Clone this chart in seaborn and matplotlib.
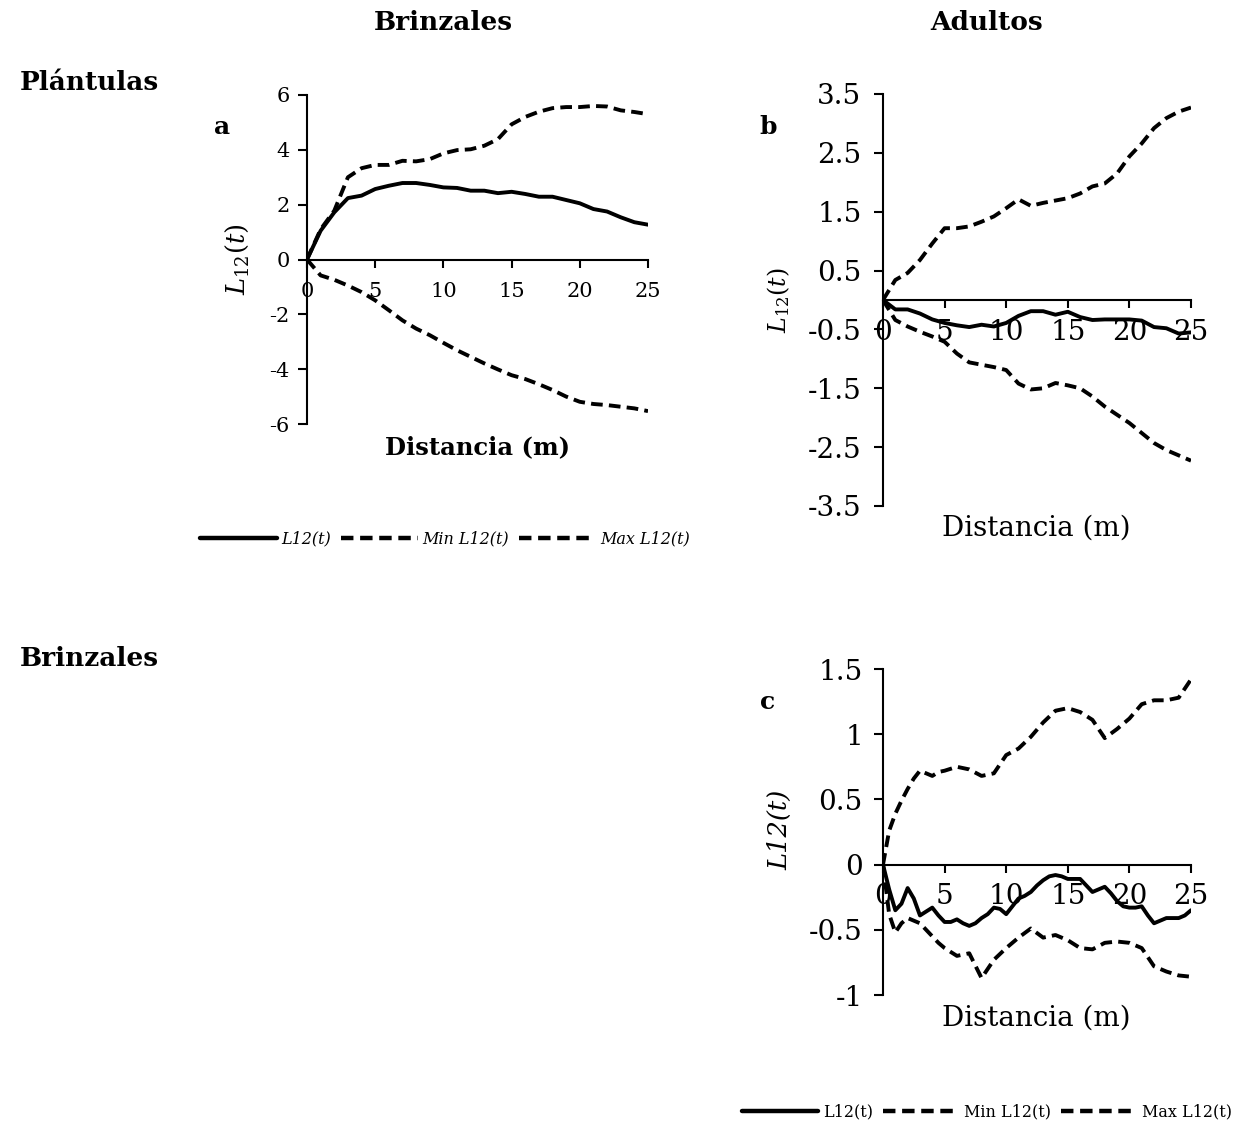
import numpy as np
import pandas as pd
import matplotlib
matplotlib.use("Agg")
import matplotlib.pyplot as plt
from matplotlib.lines import Line2D
import seaborn as sns

sns.set_style("white")
plt.rcParams['font.family'] = ['DejaVu Serif']
plt.rcParams['mathtext.fontset'] = 'dejavuserif'
plt.rcParams['text.color'] = 'black'
plt.rcParams['axes.labelcolor'] = 'black'
plt.rcParams['xtick.color'] = 'black'
plt.rcParams['ytick.color'] = 'black'

# ---------------- data ----------------
dist = list(range(0, 26))

a_l12 = [0, 1.05, 1.72, 2.24, 2.33, 2.57, 2.69, 2.79, 2.79, 2.72, 2.63, 2.61, 2.51,
         2.51, 2.42, 2.47, 2.39, 2.29, 2.29, 2.17, 2.05, 1.84, 1.75, 1.54, 1.36, 1.27]
a_min = [0, -0.58, -0.74, -0.95, -1.19, -1.49, -1.85, -2.22, -2.52, -2.76, -3.04, -3.31,
         -3.55, -3.79, -4.01, -4.22, -4.36, -4.55, -4.76, -5.0, -5.19, -5.27, -5.31,
         -5.37, -5.43, -5.53]
a_max = [0, 1.1, 1.78, 3.0, 3.33, 3.45, 3.45, 3.6, 3.58, 3.66, 3.87, 3.99, 4.02, 4.15,
         4.39, 4.93, 5.2, 5.39, 5.52, 5.56, 5.56, 5.6, 5.58, 5.44, 5.38, 5.3]

b_l12 = [0, -0.16, -0.16, -0.23, -0.33, -0.39, -0.43, -0.46, -0.42, -0.45, -0.39, -0.27,
         -0.19, -0.19, -0.25, -0.2, -0.29, -0.34, -0.33, -0.33, -0.33, -0.35, -0.46,
         -0.48, -0.57, -0.55]
b_min = [0, -0.34, -0.45, -0.54, -0.62, -0.71, -0.91, -1.06, -1.1, -1.14, -1.19, -1.42,
         -1.52, -1.5, -1.41, -1.45, -1.5, -1.64, -1.81, -1.95, -2.09, -2.26, -2.43,
         -2.55, -2.64, -2.73]
b_max = [0, 0.34, 0.46, 0.68, 0.96, 1.22, 1.22, 1.25, 1.33, 1.42, 1.56, 1.71, 1.6, 1.65,
         1.69, 1.73, 1.81, 1.93, 1.98, 2.15, 2.44, 2.66, 2.92, 3.09, 3.2, 3.27]

dist_c_fine = [i * 0.5 for i in range(51)]
c_l12 = [0, -0.19, -0.35, -0.30, -0.18, -0.26, -0.39, -0.36, -0.33, -0.39, -0.44, -0.44,
         -0.42, -0.45, -0.47, -0.45, -0.41, -0.38, -0.33, -0.34, -0.38, -0.32, -0.26,
         -0.24, -0.21, -0.16, -0.12, -0.09, -0.08, -0.09, -0.11, -0.11, -0.11, -0.16,
         -0.21, -0.19, -0.17, -0.22, -0.28, -0.32, -0.33, -0.33, -0.32, -0.39, -0.45,
         -0.43, -0.41, -0.41, -0.41, -0.39, -0.35]
dist_c_env = [0, 0.5, 1, 1.5, 2, 2.5, 3, 3.5, 4, 4.5, 5, 6, 7, 8, 9, 10, 11, 12, 13, 14,
              15, 16, 17, 18, 19, 20, 21, 22, 23, 24, 25]
c_min = [0, -0.38, -0.52, -0.45, -0.41, -0.43, -0.45, -0.50, -0.55, -0.60, -0.64, -0.70,
         -0.68, -0.87, -0.73, -0.64, -0.56, -0.49, -0.56, -0.54, -0.58, -0.64, -0.65,
         -0.60, -0.59, -0.60, -0.64, -0.78, -0.82, -0.85, -0.86]
c_max = [0, 0.26, 0.39, 0.49, 0.58, 0.66, 0.72, 0.70, 0.68, 0.71, 0.72, 0.75, 0.73, 0.68,
         0.70, 0.84, 0.89, 0.98, 1.09, 1.18, 1.20, 1.17, 1.11, 0.97, 1.04, 1.12, 1.23,
         1.26, 1.26, 1.28, 1.42]

legend_labels = ["L12(t)", "Min L12(t)", "Max L12(t)"]

# ---------------- figure ----------------
fig = plt.figure(figsize=(12.58, 11.27), dpi=100)
W, H = 1258, 1127


def add_ax(x0, y0, x1, y1):
    return fig.add_axes([x0 / W, 1 - y1 / H, (x1 - x0) / W, (y1 - y0) / H])


axa = add_ax(307, 95, 648, 424)
axb = add_ax(883, 94, 1191, 506)
axc = add_ax(883, 669, 1191, 995)

LW = 2.8
DASH = (0, (3.0, 1.6))


def draw(ax, xs, y, xe, ymin, ymax):
    sns.lineplot(x=xs, y=y, ax=ax, color='black', linewidth=LW, linestyle='-')
    sns.lineplot(x=xe, y=ymin, ax=ax, color='black', linewidth=LW, linestyle=DASH)
    sns.lineplot(x=xe, y=ymax, ax=ax, color='black', linewidth=LW, linestyle=DASH)


draw(axa, dist, a_l12, dist, a_min, a_max)
draw(axb, dist, b_l12, dist, b_min, b_max)
draw(axc, dist_c_fine, c_l12, dist_c_env, c_min, c_max)


def style(ax, ylim, yticks, fs, ypad, xpad):
    ax.set_xlim(0, 25)
    ax.set_ylim(*ylim)
    ax.set_yticks(yticks)
    ax.set_yticklabels([f"{v:g}" for v in yticks])
    ax.set_xticks([0, 5, 10, 15, 20, 25])
    ax.set_xticklabels(["0", "5", "10", "15", "20", "25"])
    for s in ['top', 'right']:
        ax.spines[s].set_visible(False)
    ax.spines['bottom'].set_position(('data', 0))
    for s in ['left', 'bottom']:
        ax.spines[s].set_color('black')
        ax.spines[s].set_linewidth(1.5)
        ax.spines[s].set_zorder(1)
    ax.tick_params(axis='y', direction='out', length=6.5, width=1.5, pad=ypad,
                   labelsize=fs, colors='black', left=True)
    ax.tick_params(axis='x', direction='out', length=6, width=1.5, pad=xpad,
                   labelsize=fs, colors='black', bottom=True)
    ax.set_xlabel("")
    ax.set_ylabel("")
    ax.set_facecolor('none')
    ax.grid(False)


style(axa, (-6, 6), [-6, -4, -2, 0, 2, 4, 6], 15, 6, 10)
style(axb, (-3.5, 3.5), [-3.5, -2.5, -1.5, -0.5, 0.5, 1.5, 2.5, 3.5], 20, 9, 8)
style(axc, (-1, 1.5), [-1, -0.5, 0, 0.5, 1, 1.5], 20, 8, 7)

# axis labels
axa.text(0.5, -0.07, "Distancia (m)", transform=axa.transAxes, ha='center', va='center',
         fontsize=17.5, fontweight='bold')
axa.text(-0.205, 0.5, r"$L_{12}(t)$", transform=axa.transAxes, ha='center', va='center',
         rotation=90, fontsize=18.5)
axb.text(0.497, -0.053, "Distancia (m)", transform=axb.transAxes, ha='center', va='center',
         fontsize=20)
axb.text(-0.338, 0.5, r"$L_{12}(t)$", transform=axb.transAxes, ha='center', va='center',
         rotation=90, fontsize=17)
axc.text(0.497, -0.07, "Distancia (m)", transform=axc.transAxes, ha='center', va='center',
         fontsize=20)
axc.text(-0.334, 0.506, "L12(t)", transform=axc.transAxes, ha='center', va='center',
         rotation=90, fontsize=18.5, style='italic')

# panel letters
fig.text(222 / W, 1 - 127 / H, "a", ha='center', va='center', fontsize=18, fontweight='bold')
fig.text(768 / W, 1 - 127 / H, "b", ha='center', va='center', fontsize=18, fontweight='bold')
fig.text(768 / W, 1 - 702 / H, "c", ha='center', va='center', fontsize=18, fontweight='bold')

# headers
fig.text(443 / W, 1 - 22 / H, "Brinzales", ha='center', va='center', fontsize=19, fontweight='bold')
fig.text(987 / W, 1 - 22 / H, "Adultos", ha='center', va='center', fontsize=19, fontweight='bold')
fig.text(20 / W, 1 - 83 / H, "Plántulas", ha='left', va='center', fontsize=19, fontweight='bold')
fig.text(20 / W, 1 - 658 / H, "Brinzales", ha='left', va='center', fontsize=19, fontweight='bold')

# legends
handles = [Line2D([], [], color='black', lw=3.2, linestyle='-'),
           Line2D([], [], color='black', lw=3.2, linestyle=(0, (2.8, 1.5))),
           Line2D([], [], color='black', lw=3.2, linestyle=(0, (2.8, 1.5)))]
fig.legend(handles, legend_labels, loc='center', bbox_to_anchor=(445 / W, 1 - 539 / H),
           ncol=3, frameon=False, prop={'size': 11.5, 'style': 'italic'},
           handlelength=4.8, columnspacing=0.6, handletextpad=0.3)
fig.legend(handles, legend_labels, loc='center', bbox_to_anchor=(987 / W, 1 - 1112 / H),
           ncol=3, frameon=False, prop={'size': 11.5},
           handlelength=4.8, columnspacing=0.6, handletextpad=0.3)

fig.savefig("out.png", dpi=100, facecolor='white')
